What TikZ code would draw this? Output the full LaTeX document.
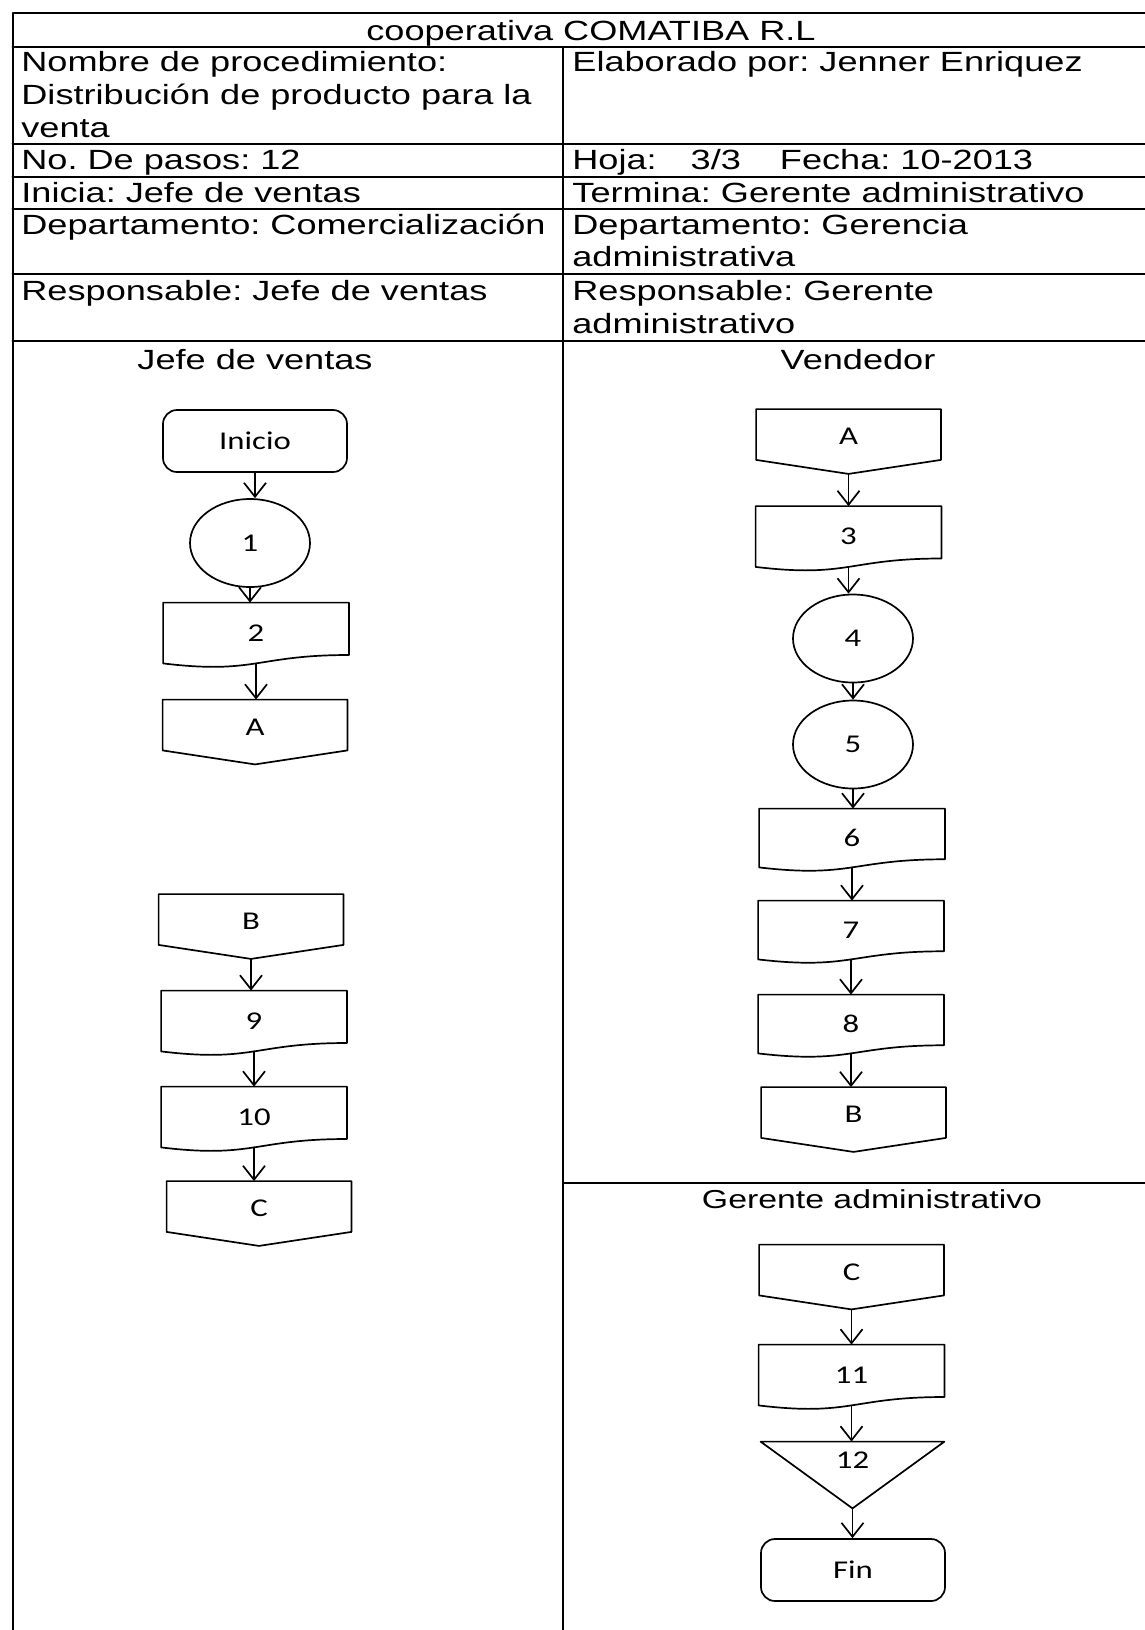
\documentclass[tikz,border=0pt]{standalone}
\usepackage{fontspec}
\setmainfont{Liberation Sans}[FakeStretch=1.3]
\newfontfamily\figfont{Carlito}[FakeStretch=1.28]
\usetikzlibrary{arrows.meta}
\usetikzlibrary{shapes.geometric}
\usetikzlibrary{positioning}
\frenchspacing
\newcommand{\encab}{\fontsize{13.9}{16}\selectfont}
\newcommand{\figtxt}{\figfont\fontsize{12.8}{14}\selectfont}
\tikzset{
  linea/.style={line width=1pt},
  forma/.style={line width=0.85pt},
  celda/.style={anchor=base west, inner sep=0pt, font=\encab},
  carril/.style={anchor=base, inner sep=0pt, font=\encab},
  terminal/.style={draw, forma, rounded corners=7pt, minimum width=92pt, minimum height=31pt, font=\figtxt},
  operacion/.style={draw, forma, ellipse, minimum width=60pt, minimum height=44pt, inner sep=0pt, font=\figtxt},
  documento/.style={minimum width=92.5pt, minimum height=#1, inner sep=0pt, font=\figtxt,
    append after command={\pgfextra{\let\nodo\tikzlastnode
      \draw[forma] (\nodo.north west) -- (\nodo.north east) -- ([yshift=0.14*#1]\nodo.south east)
        .. controls ([yshift=0.14*#1]\nodo.south) and ([yshift=-0.186*#1]\nodo.south) .. (\nodo.south west) -- cycle;}}},
  documento/.default=30pt,
  conector/.style={minimum width=92pt, minimum height=32pt, inner sep=0pt, text depth=5pt, font=\figtxt,
    append after command={\pgfextra{\let\nodo\tikzlastnode
      \draw[forma] (\nodo.north west) -- (\nodo.north east) -- ([yshift=7pt]\nodo.south east)
        -- (\nodo.south) -- ([yshift=7pt]\nodo.south west) -- cycle;}}},
  archivo/.style={minimum width=91.5pt, inner sep=0pt, text height=13pt, text depth=20pt, font=\figtxt,
    append after command={\pgfextra{\let\nodo\tikzlastnode
      \draw[forma] (\nodo.north west) -- (\nodo.north east) -- (\nodo.south) -- cycle;}}},
  flecha/.style={forma, -{Straight Barb[length=7pt,width=11pt]}},
}
\begin{document}
\begin{tikzpicture}[x=0.5pt,y=-0.5pt,line cap=round,line join=round]
\useasboundingbox (0,0) rectangle (1145,1630);
% tabla
\draw[linea] (12.5,1630) -- (12.5,12.5) -- (1145,12.5);
\draw[linea] (12.5,47) -- (1145,47);
\foreach \y in {143.5,177,209,273.5,341}
\draw[linea] (12.5,\y) -- (1145,\y);
\draw[linea] (563,47) -- (563,1630);
\draw[linea] (563,1182.5) -- (1145,1182.5);
% encabezado
\node[carril] (titulo) at (591,40.5) {cooperativa COMATIBA R.L};
\node[celda] (nom1) at (21,71) {Nombre de procedimiento:};
\node[celda] (nom2) at (21,104) {Distribución de producto para la};
\node[celda] (nom3) at (21,137) {venta};
\node[celda] (pasos) at (21,169.5) {No. De pasos: 12};
\node[celda] (inicia) at (21,202) {Inicia: Jefe de ventas};
\node[celda] (dep1) at (21,234) {Departamento: Comercialización};
\node[celda] (resp1) at (21,300.5) {Responsable: Jefe de ventas};
\node[celda] (elab) at (572,71) {Elaborado por: Jenner Enriquez};
\node[celda] (hoja) at (572,169.5) {Hoja:\hspace{17pt}3/3\hspace{19.5pt}Fecha: 10-2013};
\node[celda] (termina) at (572,202) {Termina: Gerente administrativo};
\node[celda] (dep2a) at (572,234) {Departamento: Gerencia};
\node[celda] (dep2b) at (572,266) {administrativa};
\node[celda] (resp2a) at (572,300.5) {Responsable: Gerente};
\node[celda] (resp2b) at (572,333) {administrativo};
% carriles
\node[carril] (jefe) at (255,369.5) {Jefe de ventas};
\node[carril] (vend) at (858,369.5) {Vendedor};
\node[carril, font=\fontsize{13}{15}\selectfont] (ger) at (872,1208.5) {Gerente administrativo};
% jefe de ventas
\node[terminal] (ini) at (255,441) {Inicio};
\node[operacion] (p1) at (250,543) {1};
\node[documento] (p2) at (256,633) {2};
\node[conector] (ca1) at (255,732) {A};
\node[conector] (cb1) at (251,926.5) {B};
\node[documento] (p9) at (254,1021) {9};
\node[documento] (p10) at (254,1117) {10};
\node[conector] (cc1) at (259,1213.5) {C};
% vendedor
\node[conector] (ca2) at (848.5,441.5) {A};
\node[documento] (p3) at (848.5,536.5) {3};
\node[operacion] (p4) at (853,638.5) {4};
\node[operacion] (p5) at (853,744.5) {5};
\node[documento=29pt] (p6) at (852,838) {6};
\node[documento=29pt] (p7) at (851,930) {7};
\node[documento=29pt] (p8) at (851,1024) {8};
\node[conector] (cb2) at (853.5,1119.5) {B};
% gerente administrativo
\node[conector] (cc2) at (851.5,1277) {C};
\node[documento] (p11) at (851.5,1375) {11};
\node[archivo] (p12) at (852.5,1475) {12};
\node[terminal] (fin) at (853,1570) {Fin};
% flechas
\foreach \a/\b in {ini/p1,p1/p2,p2/ca1,cb1/p9,p9/p10,p10/cc1,ca2/p3,p3/p4,p4/p5,p5/p6,p6/p7,p7/p8,p8/cb2,cc2/p11,p11/p12,p12/fin}
\draw[flecha] (\a.south) -- (\a.south |- \b.north);
\end{tikzpicture}
\end{document}
